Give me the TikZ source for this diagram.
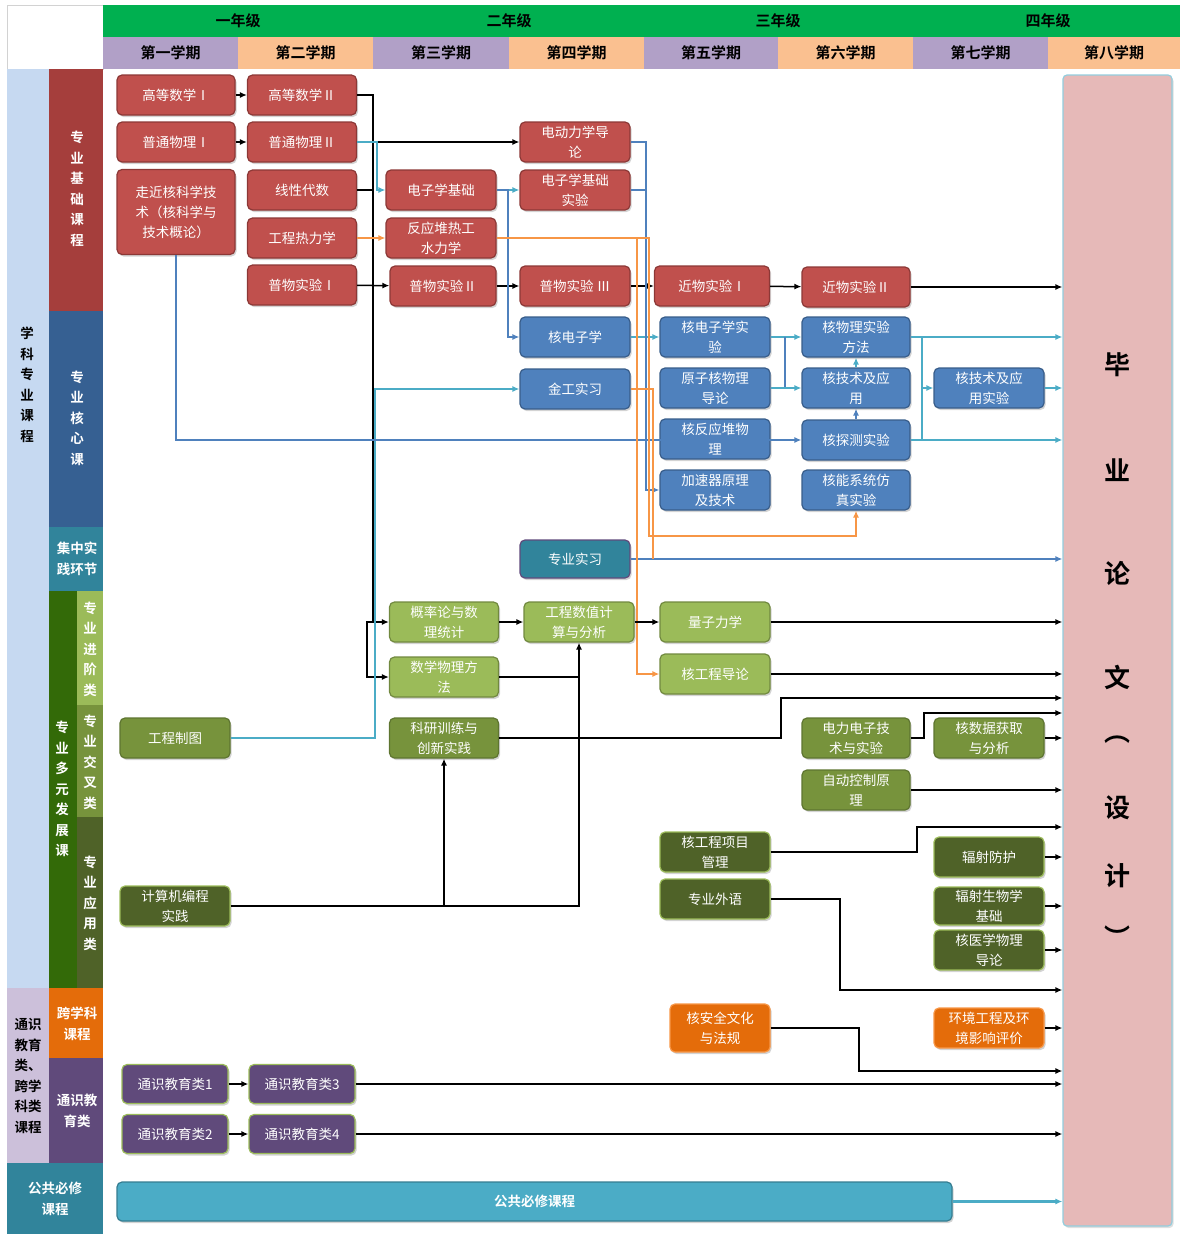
\documentclass[tikz,border=0pt]{standalone}
\usepackage{fontspec}
\setmainfont{Noto Sans CJK SC}[BoldFont={Noto Sans CJK SC Bold}]
\usepackage{tikz}
\usetikzlibrary{calc,shadows,arrows.meta}

\definecolor{hdgreen}{HTML}{00B050}
\definecolor{sempurple}{HTML}{B1A0C7}
\definecolor{sempeach}{HTML}{FAC090}
\definecolor{barsky}{HTML}{C6D9F1}
\definecolor{barred}{HTML}{A53E3C}
\definecolor{barblue}{HTML}{366092}
\definecolor{barteal}{HTML}{31849B}
\definecolor{bardeep}{HTML}{336A08}
\definecolor{barlilac}{HTML}{CCC0DA}
\definecolor{cRed}{HTML}{C0504D}
\definecolor{cRedLine}{HTML}{8C3836}
\definecolor{cBlue}{HTML}{4F81BD}
\definecolor{cBlueLine}{HTML}{385D8A}
\definecolor{cLGreen}{HTML}{9BBB59}
\definecolor{cLGreenLine}{HTML}{71893F}
\definecolor{cMGreen}{HTML}{77933C}
\definecolor{cMGreenLine}{HTML}{5E7530}
\definecolor{cDGreen}{HTML}{4F6228}
\definecolor{cDGreenLine}{HTML}{9BBB59}
\definecolor{cOrange}{HTML}{E46C0A}
\definecolor{cOrangeLine}{HTML}{F79646}
\definecolor{cPurple}{HTML}{604A7B}
\definecolor{cPurpleLine}{HTML}{9BBB59}
\definecolor{cSky}{HTML}{4BACC6}
\definecolor{cSkyLine}{HTML}{357D91}
\definecolor{thpink}{HTML}{E6B9B8}
\definecolor{lnsky}{HTML}{4BACC6}
\definecolor{lnblue}{HTML}{4F81BD}
\definecolor{lnorange}{HTML}{F79646}

\begin{document}
\begin{tikzpicture}[x=1pt,y=-1pt,>={Latex[length=7pt,width=6pt]},
  course/.style={rounded corners=5pt,line width=1.2pt,text=white,align=center,
    inner sep=0pt,minimum width=110pt,minimum height=40pt,
    font=\fontsize{13.5}{20}\selectfont,
    drop shadow={shadow xshift=1.5pt,shadow yshift=-2pt,opacity=0.35}},
  jichu/.style={course,fill=cRed,draw=cRedLine},
  hexin/.style={course,fill=cBlue,draw=cBlueLine},
  shijian/.style={course,fill=barteal,draw=cPurple},
  jinjie/.style={course,fill=cLGreen,draw=cLGreenLine},
  jiaocha/.style={course,fill=cMGreen,draw=cMGreenLine},
  yingyong/.style={course,fill=cDGreen,draw=cDGreenLine},
  kuaxk/.style={course,fill=cOrange,draw=cOrangeLine},
  tongshi/.style={course,fill=cPurple,draw=cPurpleLine},
  hdlab/.style={font=\bfseries\fontsize{15}{16}\selectfont,inner sep=0pt},
  barlab/.style={font=\bfseries\fontsize{13.5}{20.5}\selectfont,align=center,inner sep=0pt},
  thlab/.style={font=\bfseries\fontsize{26}{28}\selectfont,inner sep=0pt},
  conn/.style={line width=1.5pt},
  skyln/.style={line width=1.5pt,lnsky},
  blueln/.style={line width=1.5pt,lnblue},
  orangeln/.style={line width=1.5pt,lnorange}]

\useasboundingbox (0,0) rectangle (1180,1234);

% header
\draw[gray!35,fill=white] (7,5) rectangle (103,69);
\fill[hdgreen] (103,5) rectangle (1180,37);
\node[hdlab] (yr1) at (238,21) {一年级};
\node[hdlab] (yr2) at (509,21) {二年级};
\node[hdlab] (yr3) at (778,21) {三年级};
\node[hdlab] (yr4) at (1048,21) {四年级};
\fill[sempurple] (103,37) rectangle (238,69);
\fill[sempeach] (238,37) rectangle (373,69);
\fill[sempurple] (373,37) rectangle (509,69);
\fill[sempeach] (509,37) rectangle (644,69);
\fill[sempurple] (644,37) rectangle (778,69);
\fill[sempeach] (778,37) rectangle (913,69);
\fill[sempurple] (913,37) rectangle (1048,69);
\fill[sempeach] (1048,37) rectangle (1180,69);
\node[hdlab] (s1) at (170.5,53) {第一学期};
\node[hdlab] (s2) at (305.5,53) {第二学期};
\node[hdlab] (s3) at (441,53) {第三学期};
\node[hdlab] (s4) at (576.5,53) {第四学期};
\node[hdlab] (s5) at (711,53) {第五学期};
\node[hdlab] (s6) at (845.5,53) {第六学期};
\node[hdlab] (s7) at (980.5,53) {第七学期};
\node[hdlab] (s8) at (1114,53) {第八学期};

% left bars
\fill[barsky] (7,69) rectangle (49,988);
\fill[barred] (49,69) rectangle (103,311);
\fill[barblue] (49,311) rectangle (103,527);
\fill[barteal] (49,527) rectangle (103,591);
\fill[bardeep] (49,591) rectangle (77,988);
\fill[cLGreen] (77,591) rectangle (103,705);
\fill[cMGreen] (77,705) rectangle (103,817);
\fill[cDGreen] (77,817) rectangle (103,988);
\fill[barlilac] (7,988) rectangle (49,1163);
\fill[cOrange] (49,988) rectangle (103,1058);
\fill[cPurple] (49,1058) rectangle (103,1163);
\fill[barteal] (7,1163) rectangle (103,1234);
\node[barlab] (xkzy) at (27,385) {学\\科\\专\\业\\课\\程};
\node[barlab,white] (zyjc) at (77,189) {专\\业\\基\\础\\课\\程};
\node[barlab,white] (zyhx) at (77,418) {专\\业\\核\\心\\课};
\node[barlab,white] (jzsj) at (77,559) {集中实\\践环节};
\node[barlab,white] (dyfz) at (62,789) {专\\业\\多\\元\\发\\展\\课};
\node[barlab,white] (jjl) at (90,649) {专\\业\\进\\阶\\类};
\node[barlab,white] (jcl) at (90,762) {专\\业\\交\\叉\\类};
\node[barlab,white] (yyl) at (90,903) {专\\业\\应\\用\\类};
\node[barlab] (tsjy) at (28,1076) {通识\\教育\\类、\\跨学\\科类\\课程};
\node[barlab,white] (kxk) at (77,1024) {跨学科\\课程};
\node[barlab,white] (tsl) at (77,1111) {通识教\\育类};
\node[barlab,white] (ggbx) at (55,1199) {公共必修\\课程};

% thesis
\node[draw=lnsky!60,fill=thpink,line width=1.2pt,rounded corners=4pt,
  minimum width=109pt,minimum height=1151pt,inner sep=0pt,
  drop shadow={shadow xshift=1.5pt,shadow yshift=-2pt,opacity=0.25}] (th) at (1117.5,650.5) {};
\node[thlab] (th1) at (1117,365) {毕};
\node[thlab] (th2) at (1117,470) {业};
\node[thlab] (th3) at (1117,573) {论};
\node[thlab] (th4) at (1117,677) {文};
\node[thlab] (th5) at (1117,740) {︵};
\node[thlab] (th6) at (1117,808) {设};
\node[thlab] (th7) at (1117,876) {计};
\node[thlab] (th8) at (1117,937) {︶};

% courses
\node[jichu,minimum width=118pt] (gs1) at (176,95) {高等数学Ⅰ};
\node[jichu,minimum width=118pt] (gw1) at (176,142) {普通物理Ⅰ};
\node[jichu,minimum width=118pt,minimum height=85pt] (zj) at (176,212) {走近核科学技\\术（核科学与\\技术概论）};
\node[jichu,minimum width=109pt] (gs2) at (302,95) {高等数学Ⅱ};
\node[jichu,minimum width=109pt] (gw2) at (302,142) {普通物理Ⅱ};
\node[jichu,minimum width=109pt] (xd) at (302,190) {线性代数};
\node[jichu,minimum width=109pt] (gcr) at (302,238) {工程热力学};
\node[jichu,minimum width=109pt] (pw1) at (302,285) {普物实验Ⅰ};
\node[jichu] (dzj) at (441,190) {电子学基础};
\node[jichu] (fyd) at (441,238) {反应堆热工\\水力学};
\node[jichu,minimum width=106pt] (pw2) at (443,286) {普物实验Ⅱ};
\node[jichu] (ddl) at (575,142) {电动力学导\\论};
\node[jichu] (dzsy) at (575,190) {电子学基础\\实验};
\node[jichu] (pw3) at (575,286) {普物实验 Ⅲ};
\node[hexin] (hdz) at (575,337) {核电子学};
\node[hexin] (jg) at (575,389) {金工实习};
\node[shijian,minimum height=38pt] (zysx) at (575,559) {专业实习};
\node[jichu,minimum width=115pt] (jw1) at (712,286) {近物实验Ⅰ};
\node[hexin] (hdzsy) at (715,337) {核电子学实\\验};
\node[hexin] (yzh) at (715,388) {原子核物理\\导论};
\node[hexin] (hfy) at (715,439) {核反应堆物\\理};
\node[hexin] (jsq) at (715,490) {加速器原理\\及技术};
\node[jichu,minimum width=108pt] (jw2) at (856,287) {近物实验Ⅱ};
\node[hexin,minimum width=108pt] (hwl) at (856,337) {核物理实验\\方法};
\node[hexin,minimum width=108pt] (hjs) at (856,388) {核技术及应\\用};
\node[hexin,minimum width=108pt] (htc) at (856,440) {核探测实验};
\node[hexin,minimum width=108pt] (hnx) at (856,490) {核能系统仿\\真实验};
\node[hexin] (hjssy) at (989,388) {核技术及应\\用实验};
\node[jinjie,minimum width=109pt] (gl) at (444,622) {概率论与数\\理统计};
\node[jinjie,minimum width=109pt] (sx) at (444,677) {数学物理方\\法};
\node[jinjie] (gc) at (579,622) {工程数值计\\算与分析};
\node[jinjie] (lz) at (715,622) {量子力学};
\node[jinjie] (hgd) at (715,674) {核工程导论};
\node[jiaocha] (zt) at (175,738) {工程制图};
\node[jiaocha,minimum width=109pt] (ky) at (444,738) {科研训练与\\创新实践};
\node[jiaocha,minimum width=108pt] (dl) at (856,738) {电力电子技\\术与实验};
\node[jiaocha] (hsj) at (989,738) {核数据获取\\与分析};
\node[jiaocha,minimum width=108pt] (zd) at (856,790) {自动控制原\\理};
\node[yingyong] (hgx) at (715,852) {核工程项目\\管理};
\node[yingyong] (wy) at (715,899) {专业外语};
\node[yingyong] (bc) at (175,906) {计算机编程\\实践};
\node[yingyong] (fsf) at (989,857) {辐射防护};
\node[yingyong,minimum height=38pt] (fss) at (989,906) {辐射生物学\\基础};
\node[yingyong] (hyx) at (989,950) {核医学物理\\导论};
\node[kuaxk,minimum width=100pt,minimum height=48pt] (hag) at (720,1028) {核安全文化\\与法规};
\node[kuaxk] (hj) at (989,1028) {环境工程及环\\境影响评价};
\node[tongshi,minimum width=106pt,minimum height=39pt] (ty1) at (175,1084) {通识教育类1};
\node[tongshi,minimum width=106pt,minimum height=39pt] (ty3) at (302,1084) {通识教育类3};
\node[tongshi,minimum width=106pt,minimum height=39pt] (ty2) at (175,1134) {通识教育类2};
\node[tongshi,minimum width=106pt,minimum height=39pt] (ty4) at (302,1134) {通识教育类4};
\node[course,fill=cSky,draw=cSkyLine,minimum width=835pt,minimum height=39pt,
  font=\bfseries\fontsize{13.5}{20}\selectfont] (gg) at (534.5,1201.5) {公共必修课程};

% turning points
\coordinate (trunk) at (373,622);
\coordinate (sxturn) at (367,622);
\coordinate (cyx) at (377,190);
\coordinate (ztup) at (375,389);
\coordinate (hdzin) at (508,337);
\coordinate (ddlx) at (646,490);
\coordinate (oa) at (637,674);
\coordinate (ob) at (649,536);
\coordinate (oc) at (653,559);
\coordinate (hx) at (785,337);
\coordinate (rx) at (922,337);
\coordinate (rx2) at (922,440);
\coordinate (kyx) at (781,698);
\coordinate (dlx) at (924,713);
\coordinate (hgxx) at (917,827);
\coordinate (wyx) at (840,990);
\coordinate (hagx) at (859,1071);

% black links
\draw[conn,->] (gs1) -- (gs2);
\draw[conn,->] (gw1) -- (gw2);
\draw[conn,->] (gw2) -- (ddl);
\draw[conn] (gs2.east) -| (trunk);
\draw[conn] (xd.east) -- (xd.east -| trunk);
\draw[conn,->] (trunk) -- (gl.west);
\draw[conn,->] (trunk) -- (sxturn) |- (sx.west);
\draw[conn,->] (pw1) -- (pw2);
\draw[conn,->] (pw2) -- (pw3);
\draw[conn,->] (pw3) -- (jw1);
\draw[conn,->] (jw1) -- (jw2);
\draw[conn,->] (jw2) -- (jw2 -| th.west);

% sky links
\draw[skyln,->] (gw2.east) -| (cyx) -- (dzj.west);
\draw[skyln,->] (dzj) -- (dzsy);
\draw[skyln,->] (zt.east) -| (ztup) -- (jg.west);
\draw[skyln,->] (hdz) -- (hdzsy);
\draw[skyln,->] (hdzsy) -- (hwl);
\draw[blueln] (yzh.east) -| (hx);
\draw[skyln,->] (yzh) -- (hjs);
\draw[skyln,->] (hjs) -- (hwl);
\draw[blueln,->] (htc) -- (hjs);
\draw[skyln,->] (hwl.east) -- (hwl.east -| th.west);
\draw[skyln] (rx) -- (rx2);
\draw[skyln,->] (rx |- hjssy.west) -- (hjssy.west);
\draw[skyln,->] (htc.east) -- (htc.east -| th.west);
\draw[skyln,->] (hjssy) -- (hjssy -| th.west);

% blue links
\draw[blueln,->] (zj.south) |- (htc.west);
\draw[blueln,->] (dzj.east) -| (hdzin) -- (hdz.west);
\draw[blueln,->] (ddl.east) -| (ddlx) -- (jsq.west);
\draw[blueln] (dzsy.east) -- (dzsy.east -| ddlx);
\draw[blueln,->] (zysx) -- (zysx -| th.west);

% orange links
\draw[orangeln,->] (gcr) -- (fyd);
\draw[orangeln,->] (fyd.east) -| (oa) -- (hgd.west);
\draw[orangeln,->] (fyd.east) -| (ob) -| (hnx.south);
\draw[orangeln] (jg.east) -| (oc);

% green part
\draw[conn,->] (gl) -- (gc);
\draw[conn,->] (bc.east) -| (gc.south);
\draw[conn] (sx.east) -- (sx.east -| gc.south);
\draw[conn,->] (bc.east -| ky.south) -- (ky.south);
\draw[conn,->] (gc) -- (lz);
\draw[conn,->] (lz) -- (lz -| th.west);
\draw[conn,->] (hgd) -- (hgd -| th.west);
\draw[conn,->] (ky.east) -| (kyx) -- (kyx -| th.west);
\draw[conn,->] (dl.east) -| (dlx) -- (dlx -| th.west);
\draw[conn,->] (hsj) -- (hsj -| th.west);
\draw[conn,line width=2.5pt,->] (zd) -- (zd -| th.west);
\draw[conn,->] (hgx.east) -| (hgxx) -- (hgxx -| th.west);
\draw[conn,->] (fsf) -- (fsf -| th.west);
\draw[conn,->] (fss) -- (fss -| th.west);
\draw[conn,->] (hyx) -- (hyx -| th.west);
\draw[conn,->] (wy.east) -| (wyx) -- (wyx -| th.west);
\draw[conn,->] (hag.east) -| (hagx) -- (hagx -| th.west);
\draw[conn,->] (hj) -- (hj -| th.west);
\draw[conn,->] (ty1) -- (ty3);
\draw[conn,->] (ty3) -- (ty3 -| th.west);
\draw[conn,->] (ty2) -- (ty4);
\draw[conn,->] (ty4) -- (ty4 -| th.west);
\draw[skyln,line width=3pt,->] (gg) -- (gg -| th.west);
\end{tikzpicture}
\end{document}
